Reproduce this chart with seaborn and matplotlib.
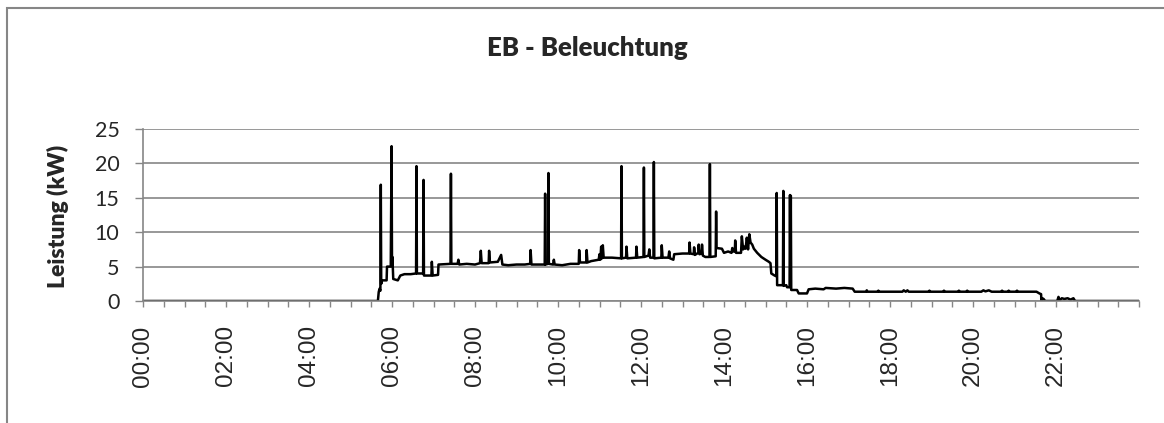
import numpy as np
import pandas as pd
import matplotlib
matplotlib.use('Agg')
import matplotlib.pyplot as plt
from matplotlib.patches import Rectangle
from matplotlib.ticker import MultipleLocator, FuncFormatter
import seaborn as sns

# Leistung EB - Beleuchtung (Zeit in Stunden, Leistung in kW)
zeit = [
    0.00, 5.66, 5.68, 5.70, 5.72, 5.73, 5.74, 5.76, 5.87, 5.88, 5.97, 5.99, 6.00, 6.01, 6.03, 6.14,
    6.20, 6.30, 6.45, 6.58, 6.59, 6.60, 6.75, 6.76, 6.77, 6.95, 6.96, 6.98, 7.11, 7.12,
    7.41, 7.42, 7.43, 7.58, 7.60, 7.62, 7.80, 8.00, 8.12, 8.14, 8.16, 8.33, 8.34, 8.36,
    8.55, 8.63, 8.66, 8.80, 9.00, 9.20, 9.33, 9.34, 9.36, 9.68, 9.69, 9.70, 9.76, 9.77, 9.78,
    9.88, 9.90, 9.92, 10.10, 10.30, 10.50, 10.51, 10.53, 10.68, 10.69, 10.71, 10.80, 10.98,
    11.00, 11.02, 11.04, 11.06, 11.08, 11.10, 11.30, 11.52, 11.53, 11.54, 11.64, 11.65, 11.67,
    11.88, 11.89, 11.91, 12.06, 12.07, 12.08, 12.18, 12.20, 12.22, 12.30, 12.31, 12.32,
    12.49, 12.50, 12.52, 12.66, 12.68, 12.70, 12.78, 12.80, 13.00, 13.16, 13.17, 13.19,
    13.27, 13.28, 13.30, 13.38, 13.39, 13.41, 13.46, 13.47, 13.49, 13.55, 13.65, 13.66, 13.67,
    13.80, 13.81, 13.82, 13.95, 14.00, 14.10, 14.18, 14.20, 14.22, 14.26, 14.27, 14.29,
    14.41, 14.43, 14.46, 14.50, 14.52, 14.55, 14.58, 14.61, 14.64, 14.68, 14.72, 14.80,
    14.90, 15.00, 15.08, 15.12, 15.14, 15.22, 15.26, 15.27, 15.28, 15.42, 15.43, 15.44,
    15.50, 15.52, 15.58, 15.59, 15.60, 15.61, 15.62, 15.76, 15.80, 16.00, 16.04, 16.20,
    16.40, 16.45, 16.70, 16.90, 17.10, 17.15, 17.42, 17.44, 17.46, 17.70, 17.72, 17.74,
    18.30, 18.33, 18.38, 18.42, 18.45, 18.93, 18.95, 18.97, 19.28, 19.30, 19.32,
    19.64, 19.66, 19.68, 19.84, 19.86, 19.88, 20.20, 20.25, 20.30, 20.38, 20.45, 20.50,
    20.68, 20.70, 20.72, 20.84, 20.86, 20.88, 21.04, 21.06, 21.08, 21.53, 21.60, 21.64,
    21.65, 21.67, 21.70, 21.74, 22.03, 22.06, 22.09, 22.14, 22.20, 22.28, 22.35, 22.42,
    22.46, 24.00,
]
leistung = [
    0.0, 0.0, 1.3, 1.8, 1.5, 16.9, 2.5, 3.0, 3.0, 5.0, 5.0, 22.5, 5.2, 6.4, 3.2, 3.0,
    3.7, 3.9, 3.9, 4.0, 19.6, 4.0, 4.0, 17.6, 3.7, 3.7, 5.7, 3.7, 3.8, 5.3,
    5.4, 18.5, 5.4, 5.4, 6.0, 5.3, 5.4, 5.3, 5.5, 7.3, 5.5, 5.5, 7.3, 5.6,
    5.7, 6.7, 5.3, 5.2, 5.3, 5.3, 5.4, 7.4, 5.3, 5.3, 15.6, 5.3, 5.4, 18.6, 5.4,
    5.3, 6.0, 5.3, 5.2, 5.4, 5.4, 7.4, 5.6, 5.6, 7.4, 5.6, 5.8, 6.0,
    6.8, 6.0, 7.9, 6.2, 8.1, 6.3, 6.3, 6.2, 19.6, 6.2, 6.3, 7.9, 6.2,
    6.3, 7.9, 6.3, 6.4, 19.4, 6.4, 6.6, 7.5, 6.3, 6.3, 20.2, 6.2,
    6.3, 8.1, 6.3, 6.3, 7.2, 6.2, 6.0, 6.8, 6.9, 6.9, 8.5, 6.9,
    6.8, 7.8, 6.7, 7.0, 8.2, 6.8, 6.9, 8.2, 6.6, 6.4, 6.4, 19.9, 6.4,
    6.5, 13.0, 7.7, 7.6, 7.0, 7.2, 7.0, 7.7, 7.2, 7.2, 8.8, 7.0,
    7.0, 9.4, 7.5, 7.9, 7.6, 9.2, 7.5, 9.7, 8.5, 8.2, 7.6, 7.0,
    6.4, 6.0, 5.7, 5.5, 4.0, 3.7, 3.6, 15.7, 2.3, 2.3, 16.0, 2.2,
    2.3, 2.0, 2.0, 15.4, 2.0, 15.3, 1.6, 1.6, 1.1, 1.1, 1.7, 1.8,
    1.7, 1.9, 1.8, 1.9, 1.8, 1.35, 1.35, 1.55, 1.35, 1.35, 1.5, 1.35,
    1.35, 1.55, 1.35, 1.55, 1.35, 1.35, 1.5, 1.35, 1.35, 1.5, 1.35,
    1.35, 1.5, 1.35, 1.35, 1.5, 1.35, 1.35, 1.55, 1.4, 1.55, 1.35, 1.35,
    1.35, 1.5, 1.35, 1.35, 1.5, 1.35, 1.35, 1.5, 1.35, 1.35, 1.1, 1.0,
    0.0, 0.4, 0.3, 0.0, 0.0, 0.6, 0.1, 0.4, 0.3, 0.4, 0.2, 0.4,
    0.0, 0.0,
]
assert len(zeit) == len(leistung)

y_ticks = [0, 5, 10, 15, 20, 25]
x_label_hours = list(range(0, 24, 2))

df = pd.DataFrame({'zeit': zeit, 'leistung': leistung})

grau = '#868686'

sns.set_style('white')
plt.rcParams['font.family'] = ['Lato', 'DejaVu Sans']

fig = plt.figure(figsize=(11.64, 4.23), dpi=100)
ax = fig.add_axes([143 / 1164, 1 - 301 / 423, 996 / 1164, 172 / 423])

sns.lineplot(data=df, x='zeit', y='leistung', ax=ax, color='black',
             linewidth=1.8, estimator=None, sort=False)

ax.set_xlim(0, 24)
ax.set_ylim(0, 25)
ax.set_yticks(y_ticks)
ax.yaxis.grid(True, color=grau, linewidth=1.2)
ax.xaxis.grid(False)
ax.set_axisbelow(True)

ax.xaxis.set_major_locator(MultipleLocator(2))
ax.xaxis.set_minor_locator(MultipleLocator(0.5))
ax.xaxis.set_major_formatter(FuncFormatter(lambda v, p: f'{int(v):02d}:00'))
ax.set_xticks(x_label_hours)

for s in ['top', 'right']:
    ax.spines[s].set_visible(False)
for s in ['left', 'bottom']:
    ax.spines[s].set_color(grau)
    ax.spines[s].set_linewidth(1.2)

ax.tick_params(axis='x', which='both', direction='out', length=4.5, width=1,
               color=grau, bottom=True)
ax.tick_params(axis='x', which='major', pad=13, labelsize=17.5, labelrotation=90)
ax.tick_params(axis='y', direction='out', length=6, width=1, color=grau, left=True,
               pad=11, labelsize=15.5)
for lab in ax.get_xticklabels():
    lab.set_family('Liberation Sans')

ax.set_xlabel('')
ax.set_ylabel('')

fig.text(58 / 1164, 1 - 216 / 423, 'Leistung (kW)', rotation=90, ha='center',
         va='center', fontsize=16.5, fontweight='heavy')
fig.text(587 / 1164, 1 - 48 / 423, 'EB - Beleuchtung', ha='center', va='center',
         fontsize=18.5, fontweight='heavy')

# Rahmen des Diagrammbereichs (nur links und oben sichtbar)
fig.patches.append(Rectangle((7 / 1164, -0.2), 1.2, 1.2 - 8 / 423,
                             transform=fig.transFigure, fill=False,
                             edgecolor=grau, linewidth=1.5))

fig.savefig('out.png', dpi=100)
